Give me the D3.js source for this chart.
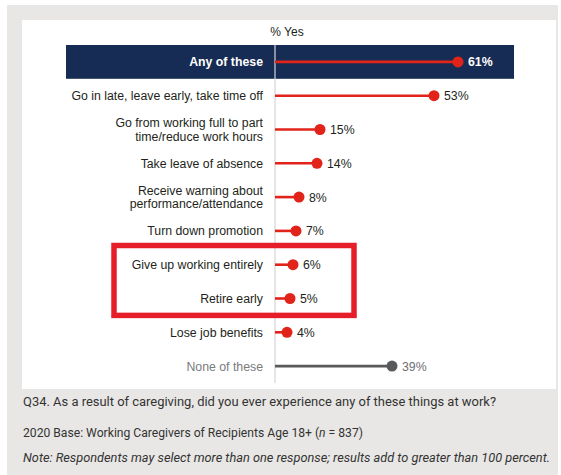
<!DOCTYPE html>
<html>
<head>
<meta charset="utf-8">
<title>Work impacts of caregiving</title>
<script src="https://cdn.jsdelivr.net/npm/d3@7"></script>
<style>
  body { margin: 0; background: #fff; }
  svg { display: block; }
</style>
</head>
<body>
<svg id="chart" width="561" height="475"></svg>
<script>
// ---- data ----
var categories = [
  "Any of these",
  "Go in late, leave early, take time off",
  "Go from working full to part|time/reduce work hours",
  "Take leave of absence",
  "Receive warning about|performance/attendance",
  "Turn down promotion",
  "Give up working entirely",
  "Retire early",
  "Lose job benefits",
  "None of these"
];
var values = [61, 53, 15, 14, 8, 7, 6, 5, 4, 39];
var highlighted = ["Give up working entirely", "Retire early"];
var footnotes = [
  "Q34.  As a result of caregiving, did you ever experience any of these things at work?",
  "2020 Base: Working Caregivers of Recipients Age 18+ (n = 837)",
  "Note: Respondents may select more than one response; results add to greater than 100 percent."
];

var svg = d3.select("#chart");
var red = "#e2231a", navy = "#172c54", grey = "#58595b";

// page backgrounds
svg.append("rect").attr("x", 7).attr("y", 5).attr("width", 551).attr("height", 470).attr("fill", "#e8e7e5");
svg.append("rect").attr("x", 22).attr("y", 20).attr("width", 534).attr("height", 369).attr("fill", "#fff");

// scales
var x = d3.scaleLinear().domain([0, 100]).range([275, 575]);
var y = d3.scaleBand().domain(categories).range([45, 383]).padding(0);
var step = y.step();

// highlight band for the total row
svg.append("rect")
  .attr("x", 66).attr("width", 448)
  .attr("y", y(categories[0])).attr("height", step)
  .attr("fill", navy);

// axis line
svg.append("line")
  .attr("x1", x(0)).attr("x2", x(0))
  .attr("y1", y.range()[0]).attr("y2", y.range()[1])
  .attr("stroke", "#d6d6d6").attr("stroke-width", 1.2);

// column header
svg.append("text")
  .attr("x", 287).attr("y", 36)
  .attr("text-anchor", "middle")
  .attr("font-family", "Liberation Sans, Arial, sans-serif")
  .attr("font-size", "12px").attr("fill", "#231f20")
  .text("% Yes");

// lollipops
var rows = svg.selectAll("g.row")
  .data(categories.map(function(c, i) { return { cat: c, v: values[i], i: i }; }))
  .enter().append("g").attr("class", "row")
  .attr("transform", function(d) { return "translate(0," + (y(d.cat) + step / 2) + ")"; });

function colorOf(d) { return d.cat === "None of these" ? grey : red; }

rows.append("line")
  .attr("x1", x(0)).attr("x2", function(d) { return x(d.v); })
  .attr("y1", 0).attr("y2", 0)
  .attr("stroke", colorOf).attr("stroke-width", 2.6);

rows.append("circle")
  .attr("cx", function(d) { return x(d.v); })
  .attr("r", 5.5)
  .attr("fill", colorOf);

// value labels
rows.append("text")
  .attr("x", function(d) { return x(d.v) + 10; })
  .attr("dy", "0.36em")
  .attr("font-family", "Liberation Sans, Arial, sans-serif")
  .attr("font-size", "12.3px")
  .attr("font-weight", function(d) { return d.i === 0 ? "bold" : "normal"; })
  .attr("fill", function(d) { return d.i === 0 ? "#fff" : (d.cat === "None of these" ? "#6d6e70" : "#231f20"); })
  .text(function(d) { return d.v + "%"; });

// category labels (some on two lines)
rows.each(function(d) {
  var lines = d.cat.split("|");
  var t = d3.select(this).append("text")
    .attr("x", 263)
    .attr("text-anchor", "end")
    .attr("font-family", "Liberation Sans, Arial, sans-serif")
    .attr("font-size", "12.3px")
    .attr("font-weight", d.i === 0 ? "bold" : "normal")
    .attr("fill", d.i === 0 ? "#fff" : (d.cat === "None of these" ? "#7a7b7d" : "#231f20"));
  lines.forEach(function(l, k) {
    t.append("tspan")
      .attr("x", 263)
      .attr("y", (k - (lines.length - 1) / 2) * 13.5)
      .attr("dy", "0.36em")
      .text(l);
  });
});

// red annotation box around highlighted rows
var hTop = y(highlighted[0]), hBot = y(highlighted[highlighted.length - 1]) + step;
svg.append("rect")
  .attr("x", 114).attr("width", 240)
  .attr("y", hTop - 2.3).attr("height", hBot - hTop + 2.3)
  .attr("fill", "none")
  .attr("stroke", "#e61e2a").attr("stroke-width", 5.5);

// footnotes
var fy = [406, 437, 462];
footnotes.forEach(function(f, i) {
  var t = svg.append("text")
    .attr("x", 23).attr("y", fy[i])
    .attr("font-family", "Roboto, sans-serif")
    .attr("font-size", "12px")
    .attr("fill", "#333")
    .attr("font-style", i === 2 ? "italic" : "normal");
  if (i === 1) {
    t.append("tspan").text("2020 Base: Working Caregivers of Recipients Age 18+ (");
    t.append("tspan").attr("font-style", "italic").text("n");
    t.append("tspan").text(" = 837)");
  } else {
    t.text(f);
  }
  t.attr("textLength", [473, 340, 527][i]).attr("lengthAdjust", "spacingAndGlyphs");
});
</script>
</body>
</html>
